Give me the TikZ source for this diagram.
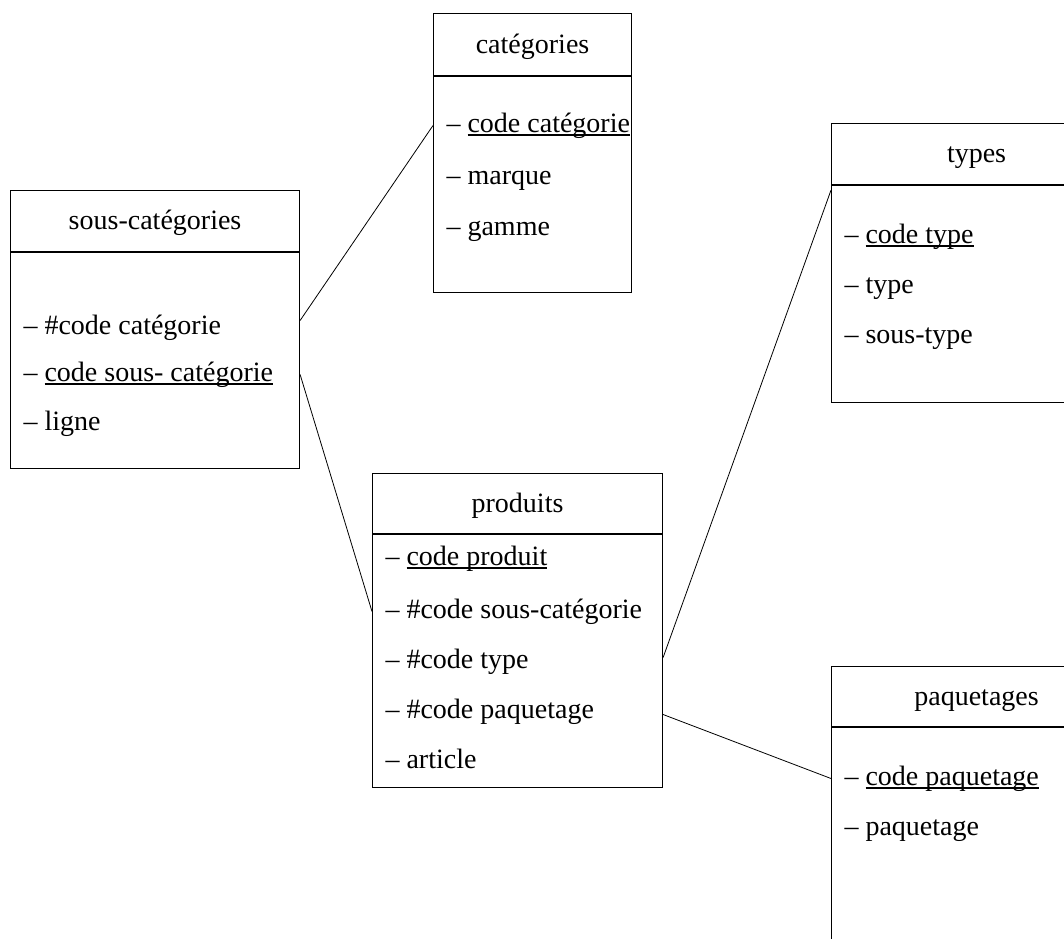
\documentclass[tikz,border=0pt]{standalone}
\usepackage{fontspec}
\setmainfont{Liberation Serif}
\usetikzlibrary{positioning}
\newcommand\keyattr[1]{\setbox0\hbox{#1}\rlap{\rule[-0.13em]{\wd0}{0.05em}}#1}

\begin{document}
\begin{tikzpicture}[x=1pt,y=-1pt,line width=1.1pt,
      every node/.style={font=\fontsize{28}{34}\selectfont},
      head/.style={draw,rectangle,anchor=north west,inner sep=0pt,text height=22pt,text depth=5pt},
      body/.style={draw,rectangle,anchor=north,inner sep=0pt},
      row/.style={anchor=base west,inner sep=0pt,text height=20pt,text depth=7pt}]
    \clip (0,0) rectangle (1064,938);
    \node[head,minimum width=198pt,minimum height=62pt] (cat-head) at (433,13) {catégories};
    \node[body,minimum width=198pt,minimum height=216pt] (cat-body) at (cat-head.south) {};
    \node[row] (cat-r1) at (446,132) {– \keyattr{code catégorie}};
    \node[row] (cat-r2) at (446,184) {– marque};
    \node[row] (cat-r3) at (446,235) {– gamme};

    \node[head,minimum width=289pt,minimum height=61pt] (scat-head) at (10,190) {sous-catégories};
    \node[body,minimum width=289pt,minimum height=216pt] (scat-body) at (scat-head.south) {};
    \node[row] (scat-r1) at (23,334) {– \#code catégorie};
    \node[row] (scat-r2) at (23,381) {– \keyattr{code sous- catégorie}};
    \node[row] (scat-r3) at (23,430) {– ligne};

    \node[head,minimum width=290pt,minimum height=61pt] (types-head) at (831,123) {types};
    \node[body,minimum width=290pt,minimum height=217pt] (types-body) at (types-head.south) {};
    \node[row] (types-r1) at (844,243) {– \keyattr{code type}};
    \node[row] (types-r2) at (844,293) {– type};
    \node[row] (types-r3) at (844,343) {– sous-type};

    \node[head,minimum width=290pt,minimum height=60pt] (prod-head) at (372,473) {produits};
    \node[body,minimum width=290pt,minimum height=253pt] (prod-body) at (prod-head.south) {};
    \node[row] (prod-r1) at (385,565) {– \keyattr{code produit}};
    \node[row] (prod-r2) at (385,618) {– \#code sous-catégorie};
    \node[row] (prod-r3) at (385,668) {– \#code type};
    \node[row] (prod-r4) at (385,718) {– \#code paquetage};
    \node[row] (prod-r5) at (385,768) {– article};

    \node[head,minimum width=290pt,minimum height=60pt] (paq-head) at (831,666) {paquetages};
    \node[body,minimum width=290pt,minimum height=300pt] (paq-body) at (paq-head.south) {};
    \node[row] (paq-r1) at (844,785) {– \keyattr{code paquetage}};
    \node[row] (paq-r2) at (844,835) {– paquetage};

    \coordinate[below=5pt of types-body.north west] (types-in);
    \draw[line width=0.8pt] ([yshift=7pt]scat-body.east |- scat-r1) -- (cat-body.west |- cat-r1);
    \draw[line width=0.8pt] (scat-body.east |- scat-r2) -- (prod-body.west |- prod-r2);
    \draw[line width=0.8pt] ([yshift=4pt]prod-body.east |- prod-r3) -- (types-in);
    \draw[line width=0.8pt] ([yshift=-3pt]prod-body.east |- prod-r4) -- (paq-body.west |- paq-r1);
  \end{tikzpicture}
\end{document}
